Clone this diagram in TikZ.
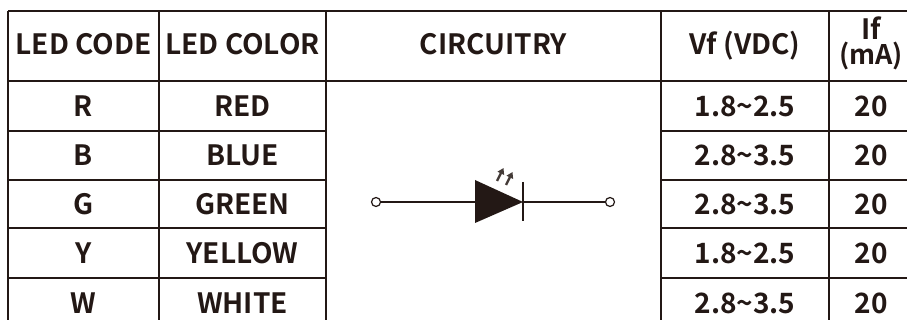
\documentclass[tikz,border=0pt]{standalone}
\usepackage{fontspec}
\setmainfont{Noto Sans CJK SC}[BoldFont={* Bold}]
\usetikzlibrary{arrows.meta}
\definecolor{ink}{HTML}{231815}
\tikzset{
  txt/.style={font=\bfseries\fontsize{28}{28}\selectfont, text=ink, anchor=base, inner sep=0pt},
  grid/.style={draw=ink, line width=2pt},
  term/.style={circle, draw=ink, fill=white, line width=1.2pt, minimum size=9pt, inner sep=0pt},
  wire/.style={draw=ink, line width=1.3pt},
  ray/.style={draw=ink!85, line width=2.4pt, -{Triangle[length=6pt,width=7pt]}}
}
\begin{document}
\begin{tikzpicture}[x=1pt,y=-1pt]
\useasboundingbox (0,0) rectangle (907,320);
\clip (0,0) rectangle (907,320);
% grid
\draw[grid] (8,11) -- (930,11);
\draw[grid] (8,81) -- (930,81);
\foreach \yy in {131,180,228,278} {
  \draw[grid] (8,\yy) -- (326,\yy);
  \draw[grid] (661,\yy) -- (930,\yy);
}
\foreach \xx in {8,159,326,661,829} {
  \draw[grid] (\xx,11) -- (\xx,340);
}
% header
\node[txt] (h1) at (83.5,55) {LED CODE};
\node[txt] (h2) at (242.5,55) {LED COLOR};
\node[txt] (h3) at (493.5,55) {CIRCUITRY};
\node[txt] (h4) at (745,55) {Vf (VDC)};
\node[txt] (h5a) at (871,40) {If};
\node[txt, font=\bfseries\fontsize{27}{27}\selectfont] (h5b) at (871,64.5) {(mA)};
% rows
\node[txt] (c1) at (83.5,117) {R};
\node[txt] (c2) at (83.5,166) {B};
\node[txt] (c3) at (83.5,215) {G};
\node[txt] (c4) at (83.5,264) {Y};
\node[txt] (c5) at (83.5,313) {W};
\node[txt] (n1) at (242.5,117) {RED};
\node[txt] (n2) at (242.5,166) {BLUE};
\node[txt] (n3) at (242.5,215) {GREEN};
\node[txt] (n4) at (242.5,264) {YELLOW};
\node[txt] (n5) at (242.5,313) {WHITE};
\node[txt] (v1) at (745,117) {1.8\textasciitilde2.5};
\node[txt] (v2) at (745,166) {2.8\textasciitilde3.5};
\node[txt] (v3) at (745,215) {2.8\textasciitilde3.5};
\node[txt] (v4) at (745,264) {1.8\textasciitilde2.5};
\node[txt] (v5) at (745,313) {2.8\textasciitilde3.5};
\node[txt] (i1) at (871,117) {20};
\node[txt] (i2) at (871,166) {20};
\node[txt] (i3) at (871,215) {20};
\node[txt] (i4) at (871,264) {20};
\node[txt] (i5) at (871,313) {20};
% LED symbol
\node[term] (t1) at (376,202) {};
\node[term] (t2) at (610,202) {};
\coordinate (an) at (475,202);
\coordinate (ka) at (523,202);
\draw[wire] (t1) -- (an);
\draw[wire] (ka) -- (t2);
\fill[ink] (475,180) -- (ka) -- (475,223) -- cycle;
\draw[draw=ink, line width=1.7pt] (523,182) -- (523,221);
\draw[ray] (497,181) -- (503.5,168);
\draw[ray] (506,185) -- (512.5,172);
\end{tikzpicture}
\end{document}
